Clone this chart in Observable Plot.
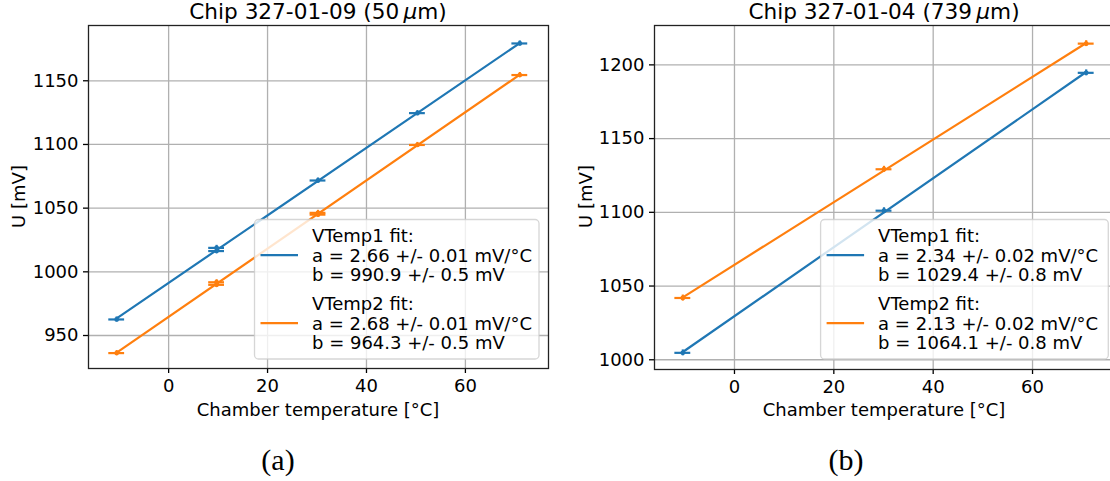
<!DOCTYPE html>
<html><head><meta charset="utf-8">
<script src="https://cdn.jsdelivr.net/npm/d3@7"></script>
<script src="https://cdn.jsdelivr.net/npm/@observablehq/plot@0.6"></script>
<style>
html,body{margin:0;padding:0;background:#fff;overflow:hidden;}
#root{position:relative;width:1110px;height:481px;overflow:hidden;font-family:"DejaVu Sans",sans-serif;background:#fff;}
.panel{position:absolute;top:0;width:560px;height:430px;}
.panel svg text{font-family:"DejaVu Sans",sans-serif !important;font-size:18px !important;font-variant:normal !important;}
#overlay{position:absolute;left:0;top:0;}
#overlay text{font-family:"DejaVu Sans",sans-serif;}
#overlay text.cap{font-family:"Liberation Serif",serif;}
</style></head><body><div id="root"></div>
<script>
// ---------- data ----------
const seriesNames = ["VTemp1", "VTemp2"];
const seriesColors = ["#1f77b4", "#ff7f0e"];
const chipIds = ["327-01-09", "327-01-04"];
const chipThickness = [50, 739];
const captions = ["(a)", "(b)"];

// panel (a): chamber temperature [°C] and voltage [mV]
const tempA1 = [-10.5, 9.7, 9.7, 30.2, 50.3, 71.0];
const voltA1 = [962.6, 1016.3, 1018.8, 1071.7, 1124.6, 1179.3];
const tempA2 = [-10.5, 9.7, 9.7, 30.2, 30.2, 50.3, 71.0];
const voltA2 = [936.2, 989.8, 991.8, 1044.9, 1046.3, 1099.6, 1154.5];
// panel (b)
const tempB1 = [-10.4, 30.1, 70.8];
const voltB1 = [1004.7, 1101.1, 1194.6];
const tempB2 = [-10.4, 30.1, 70.8];
const voltB2 = [1041.9, 1129.2, 1214.4];

// measurement uncertainties
const tempErr = 1.6;   // °C
const voltErr = 2.0;   // mV

// fit results shown in legends: [a, aErr, b, bErr]
const fitA = [[2.66, 0.01, 990.9, 0.5], [2.68, 0.01, 964.3, 0.5]];
const fitB = [[2.34, 0.02, 1029.4, 0.8], [2.13, 0.02, 1064.1, 0.8]];

// ticks
const xTicks = [0, 20, 40, 60];
const yTicksA = [950, 1000, 1050, 1100, 1150];
const yTicksB = [1000, 1050, 1100, 1150, 1200];

// ---------- drawing ----------
const root = document.getElementById("root");
const fmt = d => String(d);

function makePanel(cfg) {
  const rows = cfg.series.flatMap((s, k) => s.t.map((t, j) => ({t, u: s.u[j], k})));
  const col = d => seriesColors[d.k];
  const marks = [
    Plot.gridX(xTicks, {stroke: "#b0b0b0", strokeOpacity: 1, strokeWidth: 1.3}),
    Plot.gridY(cfg.yTicks, {stroke: "#b0b0b0", strokeOpacity: 1, strokeWidth: 1.3}),
    Plot.axisX(xTicks, {tickSize: 5, tickPadding: 6, fontSize: 18, label: null, strokeWidth: 1.3, tickFormat: fmt}),
    Plot.axisY(cfg.yTicks, {tickSize: 5, tickPadding: 5, fontSize: 18, label: null, strokeWidth: 1.3, tickFormat: fmt}),
    ...cfg.series.map((s, k) =>
      Plot.linearRegressionY(s.t.map((t, j) => ({t, u: s.u[j]})),
        {x: "t", y: "u", stroke: seriesColors[k], strokeWidth: 2.2, ci: 0})),
    Plot.ruleY(rows, {y: "u", x1: d => d.t - tempErr, x2: d => d.t + tempErr, stroke: col, strokeWidth: 2.2}),
    Plot.ruleX(rows, {x: "t", y1: d => d.u - voltErr, y2: d => d.u + voltErr, stroke: col, strokeWidth: 2.2}),
    Plot.dot(rows, {x: "t", y: "u", r: 2.4, fill: col, stroke: "none"}),
    Plot.frame({stroke: "#222", strokeWidth: 1.3})
  ];
  const chart = Plot.plot({
    width: 560, height: 430,
    marginLeft: cfg.marginLeft, marginRight: cfg.marginRight,
    marginTop: 25, marginBottom: cfg.marginBottom,
    x: {domain: cfg.xDomain},
    y: {domain: cfg.yDomain},
    style: {fontFamily: "DejaVu Sans", fontSize: "18px", color: "#000", background: "transparent", overflow: "visible"},
    marks
  });
  const div = document.createElement("div");
  div.className = "panel";
  div.style.left = cfg.left + "px";
  div.appendChild(chart);
  root.appendChild(div);
}

makePanel({
  left: 0, marginLeft: 88, marginRight: 12, marginBottom: 62,
  xDomain: [-16.2, 76.8], yDomain: [924.1, 1193.4], yTicks: yTicksA,
  series: [{t: tempA1, u: voltA1}, {t: tempA2, u: voltA2}]
});
makePanel({
  left: 560, marginLeft: 94, marginRight: 6, marginBottom: 61,
  xDomain: [-16.1, 76.5], yDomain: [993.4, 1226.7], yTicks: yTicksB,
  series: [{t: tempB1, u: voltB1}, {t: tempB2, u: voltB2}]
});

// ---------- overlay: titles, axis labels, legends, captions ----------
const svg = d3.select(root).append("svg").attr("id", "overlay")
  .attr("width", 1110).attr("height", 481).style("fill", "#000");

const panelsGeom = [
  {cx: 318, ylabX: 25, capX: 278, legX: 254.5, legW: 284.5, fit: fitA},
  {cx: 884, ylabX: 592, capX: 846, legX: 820.6, legW: 287.7, fit: fitB}
];

panelsGeom.forEach((g, i) => {
  // title
  const t = svg.append("text").attr("x", g.cx).attr("y", 19.3)
    .attr("text-anchor", "middle").style("font-size", "21.6px");
  t.append("tspan").text(`Chip ${chipIds[i]} (${chipThickness[i]}\u2009`);
  t.append("tspan").style("font-style", "italic").text("μ");
  t.append("tspan").text("m)");
  // axis labels
  svg.append("text").attr("x", g.cx).attr("y", 416).attr("text-anchor", "middle")
    .style("font-size", "18px").text("Chamber temperature [°C]");
  svg.append("text").attr("transform", `translate(${g.ylabX},196.5) rotate(-90)`)
    .attr("text-anchor", "middle").style("font-size", "18px").text("U [mV]");
  // caption
  svg.append("text").attr("class", "cap").attr("x", g.capX).attr("y", 470).attr("text-anchor", "middle")
    .style("font-size", "30px").text(captions[i]);
  // legend
  const lg = svg.append("g");
  lg.append("rect").attr("x", g.legX).attr("y", 219.5).attr("width", g.legW).attr("height", 139.5)
    .attr("rx", 4).attr("fill", "#fff").attr("fill-opacity", 0.8)
    .attr("stroke", "#cccccc").attr("stroke-opacity", 0.8).attr("stroke-width", 1.3);
  const base = [242, 310];
  seriesNames.forEach((name, k) => {
    const f = g.fit[k];
    const y0 = base[k];
    lg.append("line").attr("x1", g.legX + 6).attr("x2", g.legX + 43.5)
      .attr("y1", y0 + 19.5 - 6.4).attr("y2", y0 + 19.5 - 6.4)
      .attr("stroke", seriesColors[k]).attr("stroke-width", 2.2);
    const lines = [
      `${name} fit:`,
      `a = ${f[0].toFixed(2)} +/- ${f[1].toFixed(2)} mV/°C`,
      `b = ${f[2].toFixed(1)} +/- ${f[3].toFixed(1)} mV`
    ];
    lines.forEach((s, r) => {
      lg.append("text").attr("x", g.legX + 57.5).attr("y", y0 + r * 19.5)
        .style("font-size", "18px").text(s);
    });
  });
});
</script>
</body></html>
